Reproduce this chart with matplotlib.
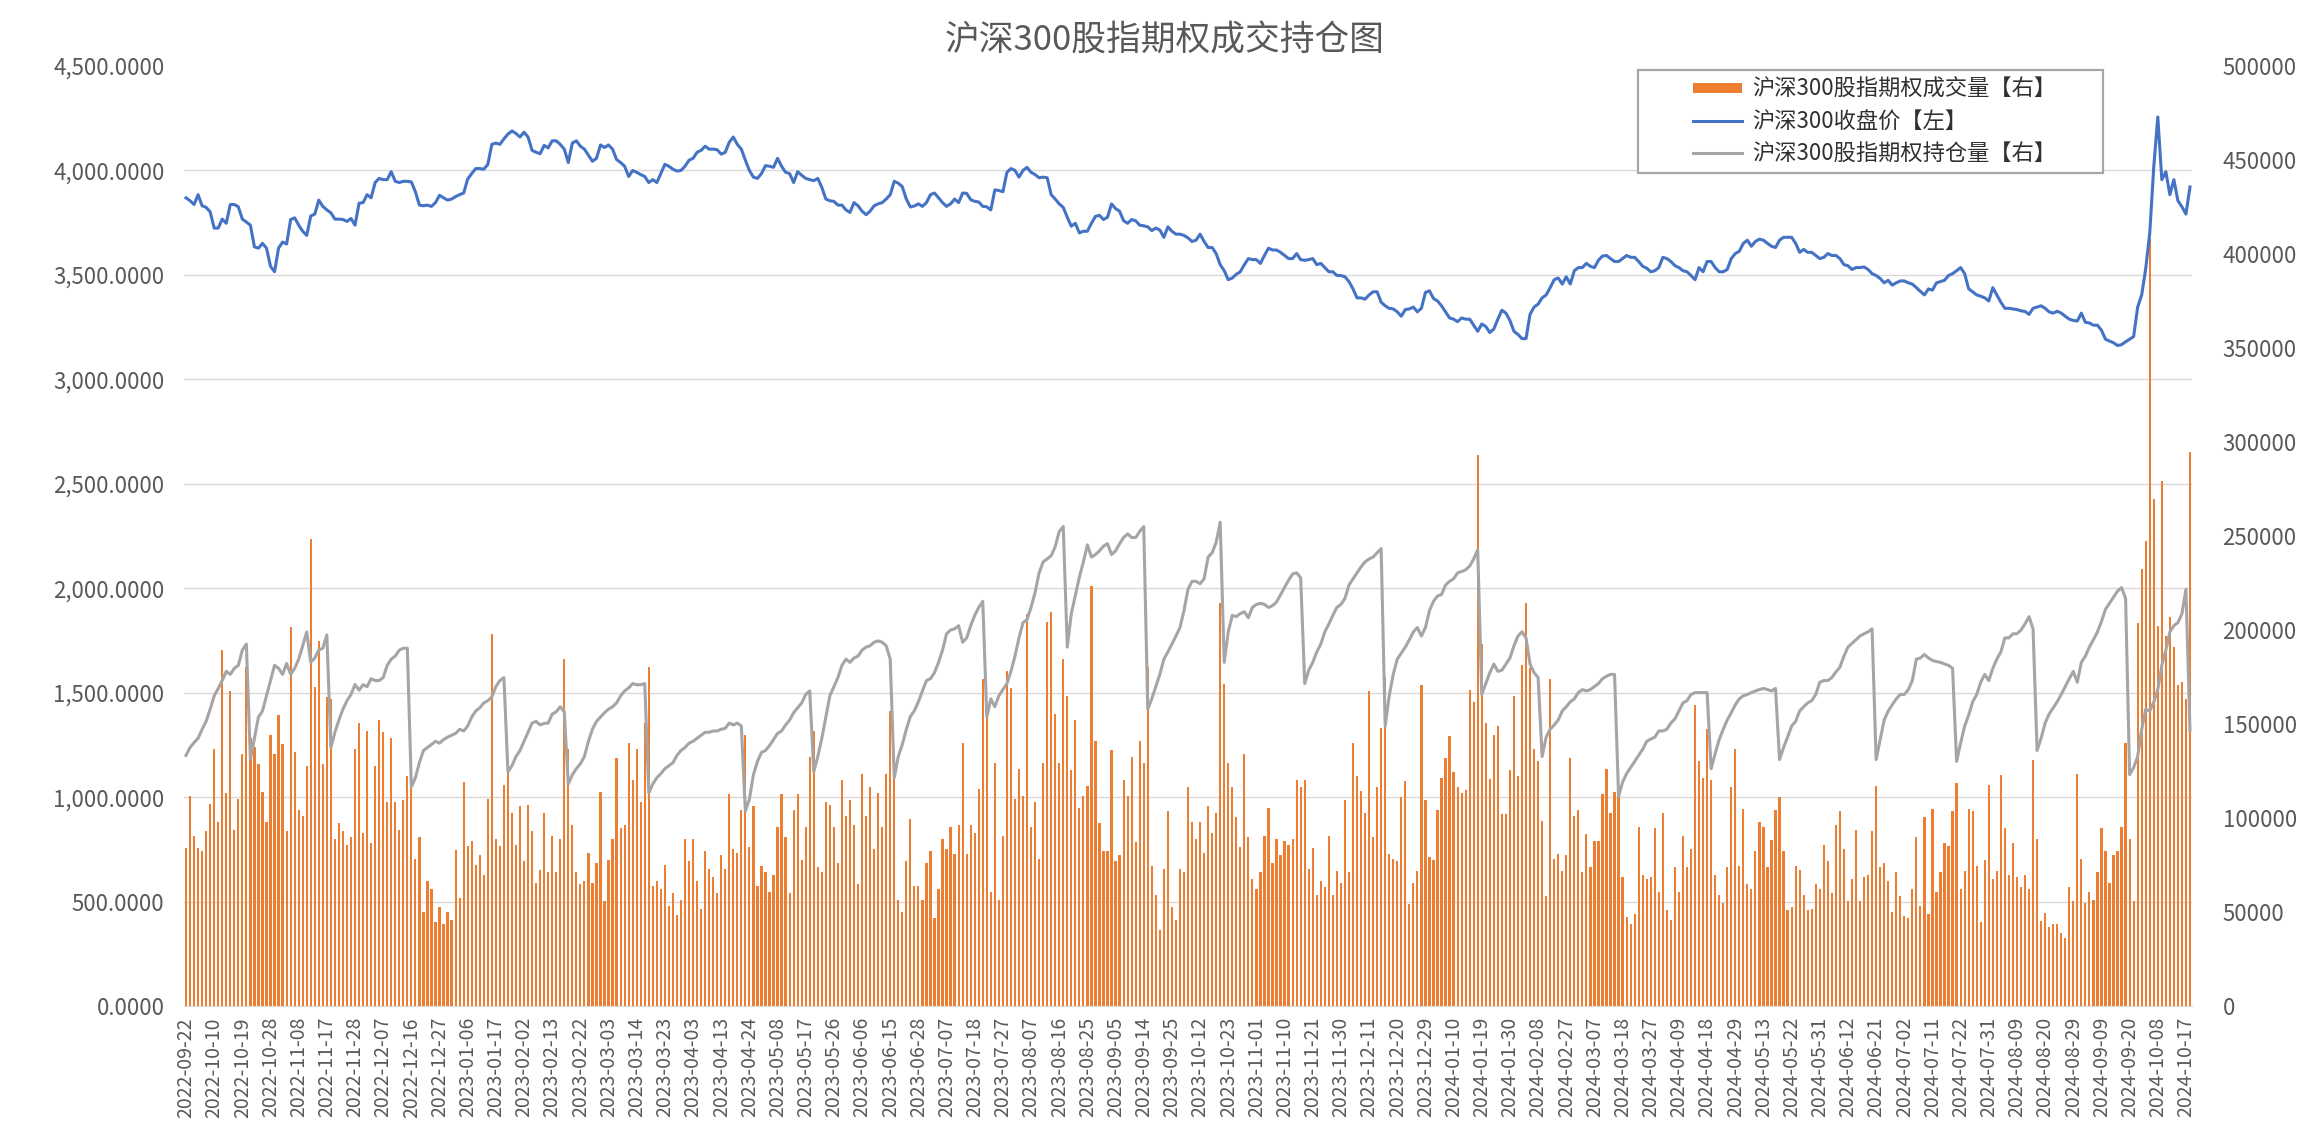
import matplotlib
matplotlib.use('Agg')
import matplotlib.pyplot as plt
from matplotlib.lines import Line2D
from matplotlib.patches import Rectangle
from matplotlib.ticker import FixedLocator, FuncFormatter

plt.rcParams['font.family'] = ['Noto Sans CJK SC', 'DejaVu Sans']

tick_labels = [
    '2022-09-22', '2022-10-10', '2022-10-19', '2022-10-28', '2022-11-08', '2022-11-17',
    '2022-11-28', '2022-12-07', '2022-12-16', '2022-12-27', '2023-01-06', '2023-01-17',
    '2023-02-02', '2023-02-13', '2023-02-22', '2023-03-03', '2023-03-14', '2023-03-23',
    '2023-04-03', '2023-04-13', '2023-04-24', '2023-05-08', '2023-05-17', '2023-05-26',
    '2023-06-06', '2023-06-15', '2023-06-28', '2023-07-07', '2023-07-18', '2023-07-27',
    '2023-08-07', '2023-08-16', '2023-08-25', '2023-09-05', '2023-09-14', '2023-09-25',
    '2023-10-12', '2023-10-23', '2023-11-01', '2023-11-10', '2023-11-21', '2023-11-30',
    '2023-12-11', '2023-12-20', '2023-12-29', '2024-01-10', '2024-01-19', '2024-01-30',
    '2024-02-08', '2024-02-27', '2024-03-07', '2024-03-18', '2024-03-27', '2024-04-09',
    '2024-04-18', '2024-04-29', '2024-05-13', '2024-05-22', '2024-05-31', '2024-06-12',
    '2024-06-21', '2024-07-02', '2024-07-11', '2024-07-22', '2024-07-31', '2024-08-09',
    '2024-08-20', '2024-08-29', '2024-09-09', '2024-09-20', '2024-10-08', '2024-10-17',
]

close_price = [
    3869, 3855, 3837, 3884, 3831, 3823, 3802, 3724, 3724, 3767,
    3747, 3837, 3837, 3826, 3767, 3753, 3738, 3634, 3628, 3651,
    3628, 3541, 3515, 3628, 3657, 3648, 3765, 3773, 3738, 3709,
    3689, 3782, 3791, 3858, 3828, 3811, 3797, 3767, 3767, 3765,
    3756, 3770, 3738, 3843,
    3846, 3884, 3869, 3942, 3962, 3956,
    3956, 3994, 3948, 3942, 3948, 3948, 3945, 3898, 3834, 3831,
    3834, 3828, 3846, 3881, 3869, 3858, 3863, 3875, 3884, 3892,
    3959, 3985, 4009, 4009, 4006, 4029, 4125, 4131, 4125, 4151,
    4174, 4189, 4177, 4160, 4183, 4160, 4096, 4087, 4080, 4120,
    4108, 4142, 4142, 4125, 4102, 4038, 4131, 4142, 4116, 4102,
    4073, 4044, 4058, 4122, 4110, 4122, 4102, 4052, 4038, 4020,
    3971, 4000, 3991, 3980, 3971, 3942, 3956, 3942, 3985, 4029,
    4020, 4006, 3997, 4000, 4020, 4049, 4058, 4087, 4096, 4116,
    4102, 4102, 4099, 4078, 4087, 4135,
    4160, 4125, 4102, 4049, 4000, 3968, 3962, 3985, 4023, 4020,
    4015, 4058, 4020, 3991, 3985, 3942, 3994, 3977, 3962, 3956,
    3951, 3962, 3919, 3863, 3855, 3852, 3834, 3834, 3811, 3799,
    3846, 3831, 3805, 3788, 3805, 3831, 3840, 3846, 3863, 3884,
    3948, 3939, 3922, 3863, 3825, 3830,
    3840, 3828, 3846, 3884, 3892, 3869, 3846, 3828, 3840, 3863,
    3846, 3892, 3890, 3860, 3852, 3849, 3828, 3826, 3811, 3907,
    3904, 3898, 3991, 4009, 4000, 3968, 4000, 4015, 3991, 3980,
    3965, 3968, 3965, 3884, 3863, 3840, 3823, 3776, 3733, 3747,
    3701, 3709, 3709, 3747, 3780, 3785,
    3765, 3776, 3840, 3817, 3805, 3759, 3747, 3765, 3759, 3738,
    3735, 3730, 3712, 3724, 3715, 3680, 3730, 3709, 3695, 3695,
    3689, 3677, 3660, 3666, 3695, 3660, 3631, 3631, 3602, 3549,
    3520, 3477, 3485, 3503, 3515, 3549, 3578, 3573, 3573, 3555,
    3593, 3628, 3619, 3619, 3608, 3593,
    3578, 3578, 3602, 3573, 3570, 3573, 3578, 3549, 3555, 3535,
    3515, 3515, 3497, 3497, 3491, 3468, 3433, 3390, 3390, 3384,
    3404, 3419, 3419, 3369, 3352, 3340, 3337, 3323, 3302, 3334,
    3337, 3346, 3323, 3340, 3416, 3424, 3387, 3375, 3352, 3323,
    3294, 3288, 3276, 3294, 3288, 3288,
    3259, 3230, 3265, 3253, 3224, 3241, 3288, 3331, 3317, 3282,
    3230, 3215, 3195, 3195, 3311, 3346, 3360, 3390, 3404, 3439,
    3477, 3485, 3456, 3491, 3456, 3520, 3535, 3535, 3555, 3541,
    3535, 3570, 3590, 3593, 3578, 3564, 3564, 3578, 3593, 3584,
    3584, 3564, 3541, 3532, 3515, 3520,
    3535, 3584, 3578, 3564, 3544, 3535, 3520, 3515, 3497, 3477,
    3535, 3515, 3564, 3564, 3535, 3515, 3515, 3526, 3578, 3602,
    3613, 3651, 3666, 3637, 3660, 3671, 3666, 3651, 3637, 3631,
    3666, 3680, 3680, 3680, 3651, 3608, 3622, 3608, 3608, 3593,
    3578, 3584, 3602, 3593, 3593, 3578,
    3549, 3544, 3526, 3535, 3535, 3538, 3526, 3506, 3497, 3483,
    3462, 3474, 3451, 3462, 3471, 3471, 3462, 3456, 3439, 3421,
    3404, 3433, 3427, 3462, 3468, 3474, 3497, 3506, 3520, 3535,
    3506, 3433, 3419, 3404, 3398, 3390, 3375, 3439, 3404, 3369,
    3340, 3340, 3337, 3334, 3328, 3325,
    3311, 3340, 3346, 3352, 3340, 3323, 3317, 3326, 3317, 3302,
    3288, 3282, 3279, 3317, 3273, 3270, 3259, 3259, 3235, 3192,
    3183, 3175, 3162, 3166, 3180, 3192, 3205, 3346, 3404, 3530,
    3700, 4018, 4256, 3956, 3994, 3884, 3956, 3855, 3826, 3791,
    3921,
]

option_volume = [
    84136, 111642, 90608, 84136, 82518, 93197, 107435, 136883, 98051, 189306,
    113260, 167625, 93844, 110024, 134294, 180245, 142384, 137530, 128793, 113907,
    97727, 144002, 134294, 154681, 139148, 93197, 201603, 134941, 104199, 100963,
    127822, 248525, 169890, 194160, 128793, 164389, 163418, 88990, 97080, 93197,
    85754, 89961, 136883, 150474,
    92226, 146267, 86725, 127822, 152092, 145620,
    108406, 142384, 108406, 93844, 109377, 122321, 132029, 78311, 89961, 50158,
    66338, 62131, 44657, 52747, 43686, 50158, 45951, 83165, 57277, 119085,
    85107, 88019, 75075, 80253, 69574, 110024, 198043, 88990, 85107, 117790,
    124586, 102905, 85754, 106141, 77017, 106788, 93197, 65367, 72163, 102581,
    71192, 90608, 71192, 88990, 184452, 136883, 96433, 71192, 64720, 66338,
    81547, 65367, 76046, 113907, 55659, 77664, 88990, 132029, 94491, 96433,
    139795, 120379, 136559, 108406, 150474, 180569, 64073, 66338, 62131, 75075,
    53394, 59866, 48540, 56630, 88990, 77017, 88990, 66338, 51776, 82518,
    72810, 68603, 59866, 80253, 72810, 112613,
    83489, 81547, 104199, 144002, 84783, 106141, 64073, 74428, 71192, 60837,
    69574, 95462, 112613, 89961, 59866, 104199, 112613, 77664, 95462, 132676,
    146267, 73781, 71192, 108406, 106788, 95462, 76046, 120379, 100963, 109377,
    96433, 64720, 123615, 100963, 116496, 83489, 113260, 95462, 123615, 156946,
    127822, 56630, 50158, 77017, 99669, 64073,
    64073, 56630, 76046, 82518, 46922, 62131, 88990, 83489, 95462, 80900,
    96433, 139795, 80900, 96433, 92226, 115525, 174097, 153710, 60837, 129440,
    56630, 90608, 177980, 168919, 110024, 126204, 111642, 208722, 95462, 108406,
    78311, 129440, 204515, 209693, 155328, 129440, 184452, 165036, 125557, 152092,
    105170, 111642, 117143, 223284, 140766, 97080,
    82518, 82518, 135912, 77017, 80253, 120379, 111642, 132676, 87372, 140766,
    129440, 180569, 74428, 58895, 40450, 72810, 103552, 52423, 45951, 72810,
    71192, 116496, 97727, 88990, 97727, 81547, 106141, 92226, 102905, 214547,
    171508, 129440, 116496, 100316, 84783, 134294, 89961, 67309, 62131, 71192,
    90608, 105170, 76046, 88990, 80253, 88019,
    85754, 88990, 120379, 116496, 120379, 72810, 84136, 58895, 66338, 63102,
    90608, 58895, 71839, 65367, 109377, 71192, 139795, 122321, 114231, 102581,
    167625, 89961, 116496, 147885, 174744, 80900, 78311, 77017, 111318, 119732,
    54365, 65367, 71839, 170861, 109377, 79282, 77664, 104199, 121350, 132029,
    143678, 124586, 116496, 113260, 114878, 168272,
    161800, 292858, 192542, 150474, 120703, 144002, 148856, 101934, 101934, 125557,
    165036, 122321, 181216, 214547, 179598, 136883, 130087, 98374, 58248, 173773,
    78311, 80900, 71839, 80253, 132029, 100963, 104199, 71192, 91255, 73781,
    88019, 88019, 112613, 126204, 102581, 113907, 113260, 68603, 47569, 43686,
    49187, 95138, 69574, 67309, 68603, 94491,
    60513, 102581, 51129, 45951, 73781, 60837, 90608, 73781, 83489, 160182,
    130411, 121350, 147238, 120379, 69574, 59219, 55012, 73781, 116496, 136883,
    74428, 104523, 64720, 62455, 82518, 97727, 95462, 73781, 88343, 104199,
    110995, 82518, 51129, 52747, 74428, 72163, 58895, 51129, 51776, 64720,
    62131, 85754, 77017, 59866, 96433, 103552,
    83489, 55659, 67309, 93844, 55659, 68603, 69574, 92873, 117143, 73781,
    76046, 66338, 50158, 71192, 58248, 47893, 46922, 62131, 89961, 53394,
    100316, 49187, 104523, 60837, 71192, 86725, 85107, 103552, 118761, 62131,
    71839, 104523, 103552, 74428, 44657, 77664, 117467, 67309, 71839, 122968,
    94491, 69574, 86725, 68603, 63102, 69574,
    62131, 131058, 88990, 45304, 49511, 42068, 43686, 43686, 38832, 36243,
    63102, 55659, 123615, 78311, 55012, 60837, 56630, 71192, 94815, 82518,
    65691, 80253, 82518, 95462, 140119, 88990, 55659, 203868, 232345, 247554,
    407736, 269559, 202250, 279267, 196750, 207104, 190924, 170861, 172155, 163418,
    294476,
]

open_interest = [
    133300, 137500, 140100, 142400, 147200, 151400, 157900, 165000, 168900, 173100,
    178000, 176400, 179600, 181200, 189300, 192500, 131100, 142400, 153700, 156900,
    165000, 173100, 181200, 179600, 176400, 182200, 176400, 179600, 184500, 191600,
    199000, 182800, 185100, 189300, 190300, 197400, 137500, 145600, 152100, 157900,
    162400, 165700, 171000, 168000,
    170900, 169900, 174100, 173100, 173100, 174700,
    181200, 184500, 186100, 189300, 190300, 190300, 116500, 121400, 129400, 135900,
    137500, 139100, 140800, 139800, 141700, 143000, 144000, 145000, 147200, 146300,
    148900, 153700, 156900, 158600, 161200, 162400, 164400, 169900, 173100, 174700,
    124600, 127800, 132700, 135900, 140800, 145600, 150500, 151400, 149500, 150300,
    150500, 155300, 156500, 159200, 156500, 118100, 123000, 126200, 128800, 132700,
    140800, 147200, 151400, 153700, 156000, 157900, 159200, 161200, 165000, 167600,
    169200, 171500, 170900, 170900, 171500, 113300, 118100, 121400, 123600, 126200,
    127800, 129400, 133300, 135900, 137500, 139800, 140800, 142400, 144000, 145600,
    145600, 146300, 146300, 147200, 147700, 150500, 149500, 150500, 148900, 103600,
    110000, 123000, 130100, 134900, 135900, 138500, 141700, 145000, 146300, 149500,
    152100, 156000, 158600, 161200, 165700, 167600, 124600, 132700, 142400, 153700,
    165000, 169900, 174700, 181200, 184500, 182800, 185100, 186100, 189300, 190900,
    191600, 193500, 194200, 193500, 191600, 184500, 121400, 132700, 139100, 147200,
    154000, 157000, 161800, 167600, 173100, 174100, 177300, 182800, 189300, 198000,
    200000, 200600, 202300, 193500, 195800, 202300, 207800, 212000, 215200, 153700,
    163400, 159200, 165000, 168300, 171500, 178000, 186100, 195800, 203900, 205500,
    212000, 220000, 230400, 236200, 237800, 239500, 244300, 252400, 255000, 190900,
    208700, 218400, 228100, 236200, 245300, 238800, 240100, 242100, 244600, 245900,
    240100, 242100, 245900, 249200, 251100, 249200, 249200, 252400, 255000, 157900,
    163400, 169900, 176400, 184500, 188300, 192500, 196800, 201300, 210300, 221700,
    225900, 225900, 224600, 227200, 238800, 241100, 246600, 257300, 182800, 199000,
    207800, 207100, 208700, 209700, 206500, 212000, 213600, 214200, 213600, 212000,
    212900, 214900, 218800, 222600, 226500, 229800, 230400, 227800, 171500, 178600,
    182800, 188300, 192500, 199000, 203200, 207800, 212000, 213600, 216800, 223900,
    227200, 230400, 233600, 236200, 237800, 238800, 241100, 243300, 148900, 165000,
    176400, 184500, 187700, 190900, 194800, 199000, 201300, 196800, 201300, 210300,
    215200, 218100, 218800, 223900, 225900, 227200, 230400, 231100, 232000, 234000,
    237800, 242700, 165700, 171500, 177300, 181900, 178000, 178600, 181900, 185100,
    191600, 196800, 199000, 195800, 181900, 177300, 174700, 132700, 143000, 147200,
    149500, 152100, 156900, 159200, 161800, 163400, 166700, 168300, 167600, 168300,
    169900, 171500, 174100, 175400, 176400, 176400, 111600, 119100, 123600, 126900,
    130100, 133300, 136600, 140800, 142000, 143000, 146300, 146300, 147200, 150500,
    152700, 156900, 161200, 162400, 165700, 166700, 166700, 166700, 166700, 126200,
    134300, 141700, 147200, 152100, 156000, 160200, 163400, 165000, 165700, 166700,
    167600, 168300, 168900, 168300, 167600, 168900, 131100, 137500, 143000, 148900,
    151400, 156900, 159200, 161200, 162400, 165700, 172200, 173100, 173100, 174700,
    177700, 180200, 186100, 190900, 192900, 194800, 196800, 198000, 199000, 200600,
    131100, 141700, 152100, 156900, 160200, 163400, 165700, 165700, 168300, 173100,
    184500, 185100, 187000, 185100, 183800, 183200, 182800, 181900, 181200, 179600,
    130100, 139800, 148900, 154700, 161800, 165700, 172200, 176400, 173100, 179600,
    184500, 188300, 195800, 195800, 198000, 198000, 200000, 203200, 207100, 200600,
    135900, 142400, 150500, 155300, 158600, 161800, 165700, 169900, 174100, 178000,
    172200, 182800, 186100, 190900, 194800, 199000, 204500, 211000, 214200, 217500,
    220700, 222600, 216800, 123000, 126900, 132700, 147200, 157900, 156900, 161800,
    168300, 181200, 189300, 199000, 202300, 203900, 208700, 221700, 146300,
]

series_labels = ['沪深300股指期权成交量【右】', '沪深300收盘价【左】', '沪深300股指期权持仓量【右】']
title_text = '沪深300股指期权成交持仓图'

ORANGE = '#ED7D31'
BLUE = '#4472C4'
GRAY = '#A5A5A5'
TXT = '#595959'
GRID = '#D9D9D9'

W, H = 2300, 1130
fig = plt.figure(figsize=(W / 100, H / 100), dpi=100)
L, R, T, B = 184, 2192, 66, 1006
ax = fig.add_axes([L / W, 1 - B / H, (R - L) / W, (B - T) / H])
ax2 = ax.twinx()

N = len(close_price)
xs = list(range(N))

ax2.bar(xs, option_volume, width=0.55, color=ORANGE, zorder=2, linewidth=0)
ax2.plot(xs, open_interest, color=GRAY, lw=2.2, zorder=3, solid_joinstyle='round')
ax.plot(xs, close_price, color=BLUE, lw=2.2, zorder=3, solid_joinstyle='round')

ax.set_zorder(ax2.get_zorder() + 1)
ax.patch.set_visible(False)

ax.set_xlim(-0.5, N - 0.5)
ax.set_ylim(0, 4500)
ax2.set_ylim(0, 500000)

left_ticks = list(range(0, 4501, 500))
ax.set_yticks(left_ticks)
ax.yaxis.set_major_formatter(FuncFormatter(lambda v, p: f'{v:,.4f}'))
ax2.set_yticks(list(range(0, 500001, 50000)))
ax2.yaxis.set_major_formatter(FuncFormatter(lambda v, p: f'{int(v)}'))

ax2.yaxis.set_minor_locator(FixedLocator([v * 500000 / 4500 for v in left_ticks]))
ax2.grid(which='minor', axis='y', color=GRID, lw=1.0)
ax2.grid(which='major', visible=False)
ax2.set_axisbelow(True)

ax.set_xticks(list(range(0, N, 7)))
ax.set_xticklabels(tick_labels, rotation=90)

ax.tick_params(axis='x', length=0, pad=8, labelsize=14, labelcolor=TXT)
ax.tick_params(axis='y', length=0, pad=14, labelsize=16, labelcolor=TXT)
ax2.tick_params(axis='y', which='both', length=0, pad=22, labelsize=16, labelcolor=TXT)

for a in (ax, ax2):
    for s in ('top', 'left', 'right', 'bottom'):
        a.spines[s].set_visible(False)
ax2.spines['bottom'].set_visible(True)
ax2.spines['bottom'].set_color(GRID)

fig.text(1165 / W, 1 - 41 / H, title_text, ha='center', va='center', fontsize=25, color=TXT)

box = Rectangle((1638 / W, 1 - 173 / H), (2103 - 1638) / W, (173 - 70) / H,
                transform=fig.transFigure, facecolor='white', edgecolor='#A6A6A6',
                lw=1.6, zorder=4, clip_on=False)
ax.add_artist(box)

handles = [
    Line2D([0], [0], color=ORANGE, lw=7.2, solid_capstyle='butt'),
    Line2D([0], [0], color=BLUE, lw=2.2),
    Line2D([0], [0], color=GRAY, lw=2.2),
]
leg = ax.legend(handles, series_labels, loc='upper left',
                bbox_to_anchor=(1693 / W, 1 - 78 / H), bbox_transform=fig.transFigure,
                frameon=False, borderpad=0, borderaxespad=0, handlelength=2.2,
                handletextpad=0.45, labelspacing=0.42, fontsize=16, labelcolor='#303030')
leg.set_zorder(5)

fig.savefig('out.png', dpi=100)
